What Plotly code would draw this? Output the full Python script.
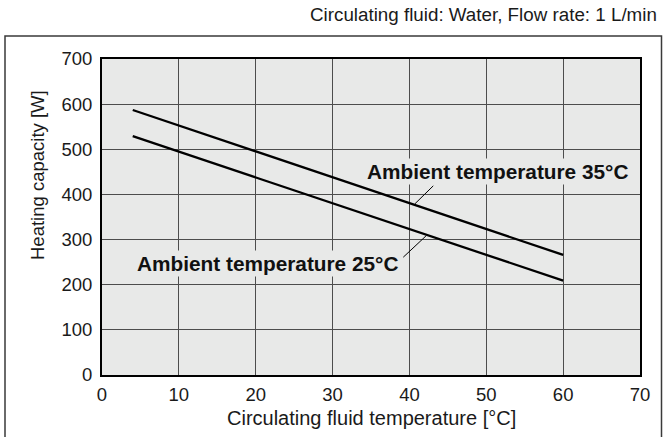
import plotly.graph_objects as go

# Data
temp_x = [4, 60]
cap_35 = [587, 266]
cap_25 = [529, 209]
x_ticks = [0, 10, 20, 30, 40, 50, 60, 70]
y_ticks = [0, 100, 200, 300, 400, 500, 600, 700]

FONT = "Liberation Sans, Arial, Helvetica, sans-serif"
BG = "#e8e9e8"

fig = go.Figure()
fig.add_trace(go.Scatter(x=temp_x, y=cap_35, mode="lines",
                         line=dict(color="black", width=2.3), showlegend=False))
fig.add_trace(go.Scatter(x=temp_x, y=cap_25, mode="lines",
                         line=dict(color="black", width=2.3), showlegend=False))

W, H = 663, 437
L, R, T, B = 102, 23, 59, 62
pw, ph = W - L - R, H - T - B

def px(xp):
    return (xp - L) / pw

def py(yp):
    return (H - B - yp) / ph

fig.update_layout(
    width=W, height=H,
    margin=dict(l=L, r=R, t=T, b=B, pad=0),
    paper_bgcolor="white", plot_bgcolor=BG,
    font=dict(family=FONT, size=18, color="#1a1a1a"),
    xaxis=dict(range=[0, 70], tickvals=x_ticks, ticks="", showgrid=True,
               gridcolor="#4d4d4d", gridwidth=1.3, zeroline=False,
               showline=True, linecolor="black", linewidth=2, mirror=True,
               tickfont=dict(size=18.5), ticklabelstandoff=2),
    yaxis=dict(range=[0, 700], tickvals=y_ticks, ticks="", showgrid=True,
               gridcolor="#4d4d4d", gridwidth=1.3, zeroline=False,
               showline=True, linecolor="black", linewidth=2, mirror=True,
               tickfont=dict(size=18.5), ticklabelstandoff=4),
)

# outer frame
fig.add_shape(type="rect", xref="paper", yref="paper",
              x0=px(5), x1=px(661.5), y0=py(460), y1=py(36),
              line=dict(color="#3a3a3a", width=1.5), layer="below")

# leader lines
fig.add_shape(type="line", x0=43.1, y0=419, x1=40.7, y1=379,
              line=dict(color="black", width=1))
fig.add_shape(type="line", x0=39.2, y0=261, x1=42.15, y1=308,
              line=dict(color="black", width=1))

fig.add_annotation(x=51.5, y=450, text="<b>Ambient temperature 35°C</b>",
                   showarrow=False, bgcolor=BG, borderpad=1,
                   font=dict(size=20.8, color="#111"))
fig.add_annotation(x=21.5, y=246, text="<b>Ambient temperature 25°C</b>",
                   showarrow=False, bgcolor=BG, borderpad=1,
                   font=dict(size=20.8, color="#111"))

# titles
fig.add_annotation(xref="paper", yref="paper", x=px(659), y=py(15),
                   xanchor="right", yanchor="middle", showarrow=False,
                   text="Circulating fluid: Water, Flow rate: 1 L/min",
                   font=dict(size=18.8))
fig.add_annotation(xref="paper", yref="paper", x=px(371), y=py(418),
                   xanchor="center", yanchor="middle", showarrow=False,
                   text="Circulating fluid temperature [°C]",
                   font=dict(size=20))
fig.add_annotation(xref="paper", yref="paper", x=px(37), y=py(175),
                   xanchor="center", yanchor="middle", showarrow=False,
                   textangle=-90, text="Heating capacity [W]",
                   font=dict(size=18.5))

fig.write_html("out.html", config={"displayModeBar": False},
               post_script="document.body.style.margin='0';document.body.style.overflow='hidden';")
